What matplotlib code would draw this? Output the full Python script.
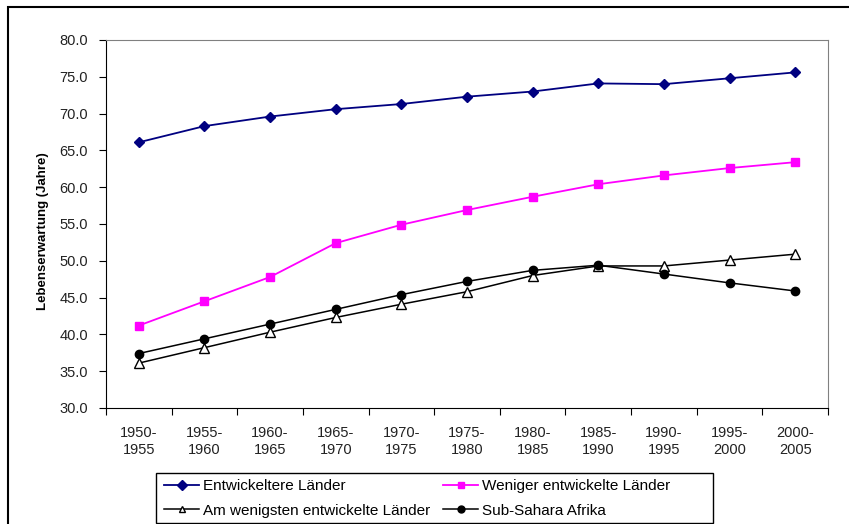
import matplotlib.pyplot as plt
from matplotlib.patches import Rectangle

plt.rcParams['font.family'] = ['Liberation Sans', 'DejaVu Sans']

# Zeiträume und Lebenserwartung (Jahre)
perioden = ["1950-\n1955", "1955-\n1960", "1960-\n1965", "1965-\n1970", "1970-\n1975",
            "1975-\n1980", "1980-\n1985", "1985-\n1990", "1990-\n1995", "1995-\n2000",
            "2000-\n2005"]
entwickeltere = [66.1, 68.3, 69.6, 70.6, 71.3, 72.3, 73.0, 74.1, 74.0, 74.8, 75.6]
weniger_entwickelt = [41.2, 44.5, 47.8, 52.4, 54.9, 56.9, 58.7, 60.4, 61.6, 62.6, 63.4]
am_wenigsten = [36.1, 38.2, 40.3, 42.3, 44.1, 45.8, 48.0, 49.3, 49.3, 50.1, 50.9]
sub_sahara = [37.4, 39.4, 41.4, 43.4, 45.4, 47.2, 48.7, 49.4, 48.2, 47.0, 45.9]

fig = plt.figure(figsize=(8.49, 5.24), dpi=100)
ax = fig.add_axes([106 / 849, 1 - 408 / 524, 722 / 849, 368 / 524])

x = list(range(len(perioden)))
l1, = ax.plot(x, entwickeltere, color="#000080", lw=1.3, marker="D", ms=5.5,
              label="Entwickeltere Länder")
l2, = ax.plot(x, weniger_entwickelt, color="#FF00FF", lw=1.3, marker="s", ms=6,
              label="Weniger entwickelte Länder")
l3, = ax.plot(x, am_wenigsten, color="black", lw=1.1, marker="^", ms=6.5,
              mfc="white", mec="black", label="Am wenigsten entwickelte Länder")
l4, = ax.plot(x, sub_sahara, color="black", lw=1.1, marker="o", ms=6,
              label="Sub-Sahara Afrika")

ax.set_xlim(-0.5, len(perioden) - 0.5)
ax.set_ylim(30, 80)
ax.set_yticks([30 + 5 * i for i in range(11)])
ax.set_yticklabels([f"{30 + 5 * i:.1f}" for i in range(11)])
ax.set_xticks(x)
ax.set_xticklabels(perioden, linespacing=1.25)
ax.set_xticks([i - 0.5 for i in range(len(perioden) + 1)], minor=True)
ax.tick_params(axis="x", which="major", length=0, pad=13, labelsize=10.5, colors="#222222")
ax.tick_params(axis="x", which="minor", length=5, direction="out", width=0.8)
ax.tick_params(axis="y", length=5, direction="out", width=0.8, pad=8, labelsize=10.5,
               colors="#222222")
ax.tick_params(axis="both", color="black")
for s in ["top", "right"]:
    ax.spines[s].set_color("#808080")
for s in ["left", "bottom"]:
    ax.spines[s].set_color("black")

fig.text(43 / 849, 1 - 231 / 524, "Lebenserwartung (Jahre)", rotation=90,
         ha="center", va="center", fontsize=9.5, fontweight="bold")

# Legende: Rahmen separat, Einträge ohne eigenen Rahmen
leg = fig.legend([l1, l3, l2, l4],
                 [l1.get_label(), l3.get_label(), l2.get_label(), l4.get_label()],
                 ncol=2, loc="upper left",
                 bbox_to_anchor=(158 / 849, 1 - 473 / 524),
                 fontsize=11, frameon=False,
                 handlelength=2.3, handletextpad=0.25, borderpad=0.4,
                 labelspacing=0.7, columnspacing=0.85, borderaxespad=0)
for h in leg.legend_handles:
    h.set_markersize(5)
fig.patches.append(Rectangle((156 / 849, 1 - 523 / 524), 557 / 849, 50 / 524,
                             transform=fig.transFigure, fill=False,
                             edgecolor="black", lw=1.0))

fig.patches.append(Rectangle((8 / 849, -0.05), 1.1, 1 - 7 / 524 + 0.05,
                             transform=fig.transFigure, fill=False,
                             edgecolor="black", lw=1.5))

fig.savefig("out.png", dpi=100)
